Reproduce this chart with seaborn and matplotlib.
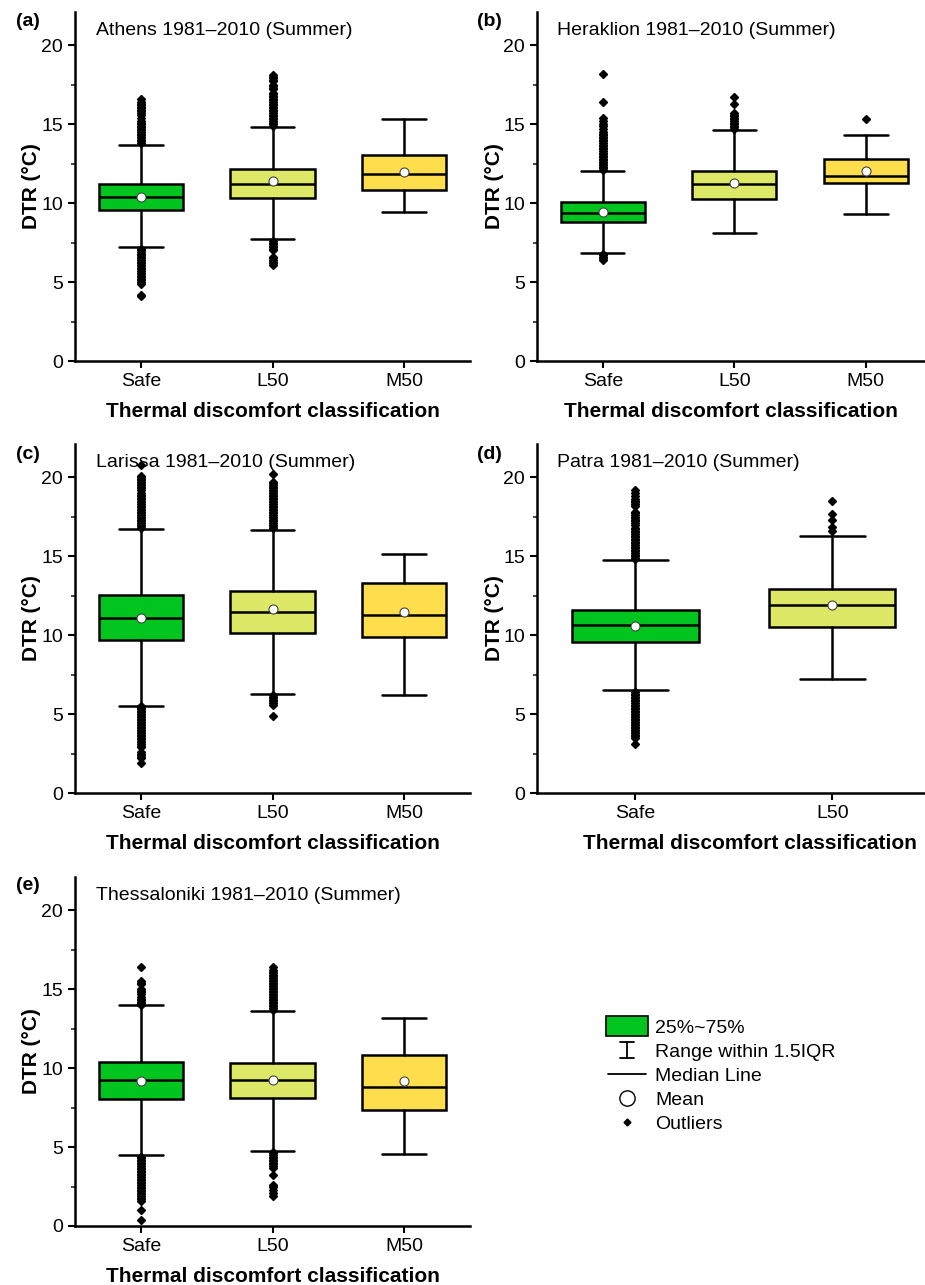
import matplotlib
matplotlib.use("Agg")
import matplotlib.pyplot as plt
import seaborn as sns
from matplotlib.patches import Rectangle
from matplotlib.lines import Line2D
from matplotlib.legend_handler import HandlerBase
from matplotlib.ticker import MultipleLocator

sns.set_theme(style="ticks")
plt.rcParams['font.family'] = ['Liberation Sans', 'DejaVu Sans']
plt.rcParams['text.color'] = 'black'

# ---------------- data ----------------
categories3 = ["Safe", "L50", "M50"]
categories2 = ["Safe", "L50"]
panel_labels = ["(a)", "(b)", "(c)", "(d)", "(e)"]
titles = ["Athens 1981\u20132010 (Summer)", "Heraklion 1981\u20132010 (Summer)",
          "Larissa 1981\u20132010 (Summer)", "Patra 1981\u20132010 (Summer)",
          "Thessaloniki 1981\u20132010 (Summer)"]
box_colors = {"Safe": "#00C51F", "L50": "#DCE866", "M50": "#FFDE4E"}

# Athens
athens_q1 = [9.58, 10.30, 10.80]
athens_med = [10.38, 11.22, 11.84]
athens_q3 = [11.22, 12.13, 13.06]
athens_mean = [10.40, 11.37, 11.96]
athens_whislo = [7.19, 7.70, 9.43]
athens_whishi = [13.69, 14.83, 15.32]
athens_out_safe = [13.8, 13.9, 14.0, 14.1, 14.2, 14.3, 14.4, 14.5, 14.6, 14.7, 14.8, 14.9, 15.0,
                   15.1, 15.2, 15.4, 15.6, 15.7, 15.8, 15.9, 16.0, 16.1, 16.2, 16.3, 16.4, 16.6,
                   7.1, 7.0, 6.9, 6.8, 6.7, 6.6, 6.5, 6.4, 6.3, 6.2, 6.1, 6.0, 5.9, 5.8, 5.7,
                   5.6, 5.5, 5.4, 5.3, 5.2, 5.1, 5.0, 4.9, 4.2, 4.1]
athens_out_l50 = [14.9, 15.0, 15.1, 15.2, 15.3, 15.4, 15.5, 15.6, 15.7, 15.8, 15.9, 16.0, 16.1,
                  16.2, 16.3, 16.4, 16.5, 16.6, 16.7, 16.8, 16.9, 17.0, 17.2, 17.3, 17.4, 17.5,
                  17.7, 17.8, 17.9, 18.0, 18.1,
                  7.6, 7.5, 7.4, 7.3, 7.2, 7.1, 7.0, 6.6, 6.5, 6.4, 6.3, 6.2, 6.1]
athens_out_m50 = []

# Heraklion
heraklion_q1 = [8.80, 10.25, 11.29]
heraklion_med = [9.37, 11.20, 11.71]
heraklion_q3 = [10.06, 12.03, 12.76]
heraklion_mean = [9.43, 11.24, 12.03]
heraklion_whislo = [6.86, 8.12, 9.30]
heraklion_whishi = [12.00, 14.64, 14.30]
heraklion_out_safe = [12.1, 12.2, 12.3, 12.4, 12.5, 12.6, 12.7, 12.8, 12.9, 13.0, 13.1, 13.2,
                      13.3, 13.4, 13.5, 13.6, 13.7, 13.8, 13.9, 14.0, 14.1, 14.2, 14.3, 14.4,
                      14.5, 14.7, 14.9, 15.0, 15.2, 15.4, 16.4, 18.2,
                      6.8, 6.7, 6.6, 6.5, 6.4]
heraklion_out_l50 = [14.7, 14.8, 14.9, 15.0, 15.1, 15.2, 15.3, 15.4, 15.5, 15.6, 15.7, 16.3, 16.7]
heraklion_out_m50 = [15.3]

# Larissa
larissa_q1 = [9.70, 10.15, 9.85]
larissa_med = [11.10, 11.43, 11.29]
larissa_q3 = [12.51, 12.81, 13.27]
larissa_mean = [11.10, 11.62, 11.48]
larissa_whislo = [5.53, 6.29, 6.18]
larissa_whishi = [16.71, 16.67, 15.15]
larissa_out_safe = [16.8, 16.9, 17.0, 17.1, 17.2, 17.3, 17.4, 17.5, 17.6, 17.7, 17.8, 17.9, 18.0,
                    18.1, 18.2, 18.3, 18.4, 18.5, 18.6, 18.7, 18.8, 18.9, 19.0, 19.2, 19.3, 19.4,
                    19.5, 19.6, 19.7, 19.8, 19.9, 20.0, 20.1, 20.8,
                    5.5, 5.4, 5.3, 5.2, 5.1, 5.0, 4.9, 4.8, 4.7, 4.6, 4.5, 4.4, 4.3, 4.2, 4.1,
                    4.0, 3.9, 3.8, 3.7, 3.6, 3.5, 3.4, 3.3, 3.2, 3.1, 3.0, 2.9, 2.6, 2.5, 2.4,
                    2.3, 2.2, 1.9]
larissa_out_l50 = [16.8, 16.9, 17.0, 17.1, 17.2, 17.3, 17.4, 17.5, 17.6, 17.7, 17.8, 17.9, 18.0,
                   18.1, 18.2, 18.3, 18.4, 18.5, 18.6, 18.7, 18.8, 18.9, 19.0, 19.1, 19.2, 19.3,
                   19.4, 19.5, 19.6, 19.7, 20.2,
                   6.2, 6.1, 6.0, 5.9, 5.8, 5.7, 5.6, 4.85]
larissa_out_m50 = []

# Patra
patra_q1 = [9.54, 10.49]
patra_med = [10.61, 11.90]
patra_q3 = [11.58, 12.91]
patra_mean = [10.57, 11.90]
patra_whislo = [6.50, 7.19]
patra_whishi = [14.73, 16.29]
patra_out_safe = [14.8, 14.9, 15.0, 15.1, 15.2, 15.3, 15.4, 15.5, 15.6, 15.7, 15.8, 15.9, 16.0,
                  16.1, 16.2, 16.3, 16.4, 16.5, 16.6, 16.7, 16.8, 17.0, 17.1, 17.2, 17.3, 17.4,
                  17.5, 17.6, 17.7, 17.8, 18.2, 18.3, 18.4, 18.5, 18.6, 18.8, 19.0, 19.2,
                  6.4, 6.3, 6.2, 6.1, 6.0, 5.9, 5.8, 5.7, 5.6, 5.5, 5.4, 5.3, 5.2, 5.1, 5.0,
                  4.9, 4.8, 4.7, 4.6, 4.5, 4.4, 4.3, 4.2, 4.1, 4.0, 3.9, 3.8, 3.7, 3.6, 3.5,
                  3.1]
patra_out_l50 = [16.56, 16.84, 17.30, 17.68, 18.50]

# Thessaloniki
thess_q1 = [8.02, 8.10, 7.34]
thess_med = [9.26, 9.26, 8.82]
thess_q3 = [10.38, 10.30, 10.84]
thess_mean = [9.18, 9.26, 9.18]
thess_whislo = [4.47, 4.77, 4.54]
thess_whishi = [13.97, 13.63, 13.19]
thess_out_safe = [14.0, 14.1, 14.2, 14.3, 14.4, 14.5, 14.7, 14.8, 14.9, 15.0, 15.3, 15.4, 15.5,
                  16.4,
                  4.4, 4.3, 4.2, 4.1, 4.0, 3.9, 3.8, 3.7, 3.6, 3.5, 3.4, 3.3, 3.2, 3.1, 3.0,
                  2.9, 2.8, 2.7, 2.6, 2.5, 2.4, 2.3, 2.2, 2.1, 2.0, 1.9, 1.8, 1.7, 1.6, 1.0, 0.4]
thess_out_l50 = [13.7, 13.8, 13.9, 14.0, 14.1, 14.2, 14.3, 14.4, 14.5, 14.6, 14.7, 14.8, 14.9,
                 15.0, 15.1, 15.2, 15.3, 15.4, 15.5, 15.6, 15.7, 15.8, 15.9, 16.0, 16.1, 16.2,
                 16.4,
                 4.7, 4.6, 4.5, 4.4, 4.3, 4.2, 4.1, 4.0, 3.9, 3.8, 3.7, 3.2, 2.6, 2.5, 2.3,
                 2.1, 1.9]
thess_out_m50 = []

panels = [
    (categories3, athens_q1, athens_med, athens_q3, athens_mean, athens_whislo, athens_whishi,
     [athens_out_safe, athens_out_l50, athens_out_m50]),
    (categories3, heraklion_q1, heraklion_med, heraklion_q3, heraklion_mean, heraklion_whislo,
     heraklion_whishi, [heraklion_out_safe, heraklion_out_l50, heraklion_out_m50]),
    (categories3, larissa_q1, larissa_med, larissa_q3, larissa_mean, larissa_whislo,
     larissa_whishi, [larissa_out_safe, larissa_out_l50, larissa_out_m50]),
    (categories2, patra_q1, patra_med, patra_q3, patra_mean, patra_whislo, patra_whishi,
     [patra_out_safe, patra_out_l50]),
    (categories3, thess_q1, thess_med, thess_q3, thess_mean, thess_whislo, thess_whishi,
     [thess_out_safe, thess_out_l50, thess_out_m50]),
]

# ---------------- layout ----------------
W, H = 925, 1285
fig = plt.figure(figsize=(W / 100, H / 100), dpi=100)

def fx(px):
    return px / W

def fy(px):
    return 1 - px / H

col_left = [75, 537]
col_w = [395, 388]
row_bottom = [361, 793, 1226]
ax_h = 349
grid = [(0, 0), (1, 0), (0, 1), (1, 1), (0, 2)]
xlims = [(-0.5, 2.5), (-0.5, 2.45), (-0.5, 2.5), (-0.5, 1.47), (-0.5, 2.5)]

LW = 1.8
for i, (cats, q1, med, q3, mean, wlo, whi, outs) in enumerate(panels):
    c, r = grid[i]
    ax = fig.add_axes([fx(col_left[c]), 1 - row_bottom[r] / H, col_w[c] / W, ax_h / H])
    stats = []
    for j, cat in enumerate(cats):
        stats.append(dict(label=cat, q1=q1[j], med=med[j], q3=q3[j], mean=mean[j],
                          whislo=wlo[j], whishi=whi[j], fliers=outs[j]))
    bp = ax.bxp(stats, positions=list(range(len(cats))), widths=0.64, capwidths=0.33,
                patch_artist=True, showmeans=True, meanline=False,
                boxprops=dict(edgecolor="black", linewidth=LW),
                whiskerprops=dict(color="black", linewidth=LW),
                capprops=dict(color="black", linewidth=LW),
                medianprops=dict(color="black", linewidth=LW),
                meanprops=dict(marker="o", markerfacecolor="white", markeredgecolor="#444444",
                               markersize=6.5, markeredgewidth=0.8),
                flierprops=dict(marker="D", markerfacecolor="black", markeredgecolor="black",
                                markersize=4.0, linestyle="none"))
    for patch, cat in zip(bp["boxes"], cats):
        patch.set_facecolor(box_colors[cat])
        patch.set_zorder(2)
    ax.set_xlim(*xlims[i])
    ax.set_ylim(0, 22.1)
    ax.set_xticks(range(len(cats)))
    ax.set_xticklabels(cats)
    ax.yaxis.set_major_locator(MultipleLocator(5))
    ax.yaxis.set_minor_locator(MultipleLocator(2.5))
    ax.tick_params(axis="both", which="major", labelsize=14, length=5, width=1.5,
                   direction="out", colors="black", pad=3.5)
    ax.tick_params(axis="y", which="minor", length=3, width=1.2, direction="out")
    for s in ["top", "right"]:
        ax.spines[s].set_visible(False)
    for s in ["left", "bottom"]:
        ax.spines[s].set_linewidth(1.8)
        ax.spines[s].set_color("black")
    ax.set_facecolor("white")
    ax.set_ylabel("DTR (\u00b0C)", fontsize=15, fontweight="bold", color="black")
    ax.yaxis.set_label_coords(-0.085, 0.5)
    ax.set_xlabel("Thermal discomfort classification", fontsize=15, fontweight="bold",
                  color="black")
    ax.xaxis.set_label_coords(0.549 if i == 3 else 0.5, -0.118)
    ax.text(0.052, 0.948, titles[i], transform=ax.transAxes, fontsize=14, va="center",
            ha="left", color="black")
    lab_x = 16 if c == 0 else 477
    lab_y = [21, 454, 886][r]
    fig.text(fx(lab_x), fy(lab_y), panel_labels[i], fontsize=14, fontweight="bold",
             va="center", ha="left", color="black")

# ---------------- legend ----------------
class FuncHandler(HandlerBase):
    def __init__(self, kind):
        super().__init__()
        self.kind = kind

    def create_artists(self, legend, orig_handle, xdescent, ydescent, width, height,
                       fontsize, trans):
        cx = width / 2 - xdescent
        cy = height / 2 - ydescent
        arts = []
        if self.kind == "box":
            arts.append(Rectangle((-xdescent, -ydescent - 2), width, height + 4,
                                  facecolor=box_colors["Safe"], edgecolor="black", lw=1.2,
                                  transform=trans))
        elif self.kind == "whisker":
            h = 12
            arts.append(Line2D([cx, cx], [cy - h / 2, cy + h / 2], color="black", lw=1.3,
                               transform=trans))
            for yy in (cy - h / 2, cy + h / 2):
                arts.append(Line2D([cx - 5, cx + 5], [yy, yy], color="black", lw=1.3,
                                   transform=trans))
        elif self.kind == "median":
            arts.append(Line2D([cx - 14, cx + 14], [cy, cy], color="black", lw=1.3,
                               transform=trans))
        elif self.kind == "mean":
            arts.append(Line2D([cx], [cy], marker="o", markersize=11,
                               markerfacecolor="white", markeredgecolor="black",
                               markeredgewidth=1.0, linestyle="none", transform=trans))
        elif self.kind == "outlier":
            arts.append(Line2D([cx], [cy], marker="D", markersize=3.5,
                               markerfacecolor="black", markeredgecolor="black",
                               linestyle="none", transform=trans))
        return arts

legend_labels = ["25%~75%", "Range within 1.5IQR", "Median Line", "Mean", "Outliers"]
legend_kinds = ["box", "whisker", "median", "mean", "outlier"]
handles = [Line2D([], []) for _ in legend_kinds]
hmap = {h: FuncHandler(k) for h, k in zip(handles, legend_kinds)}
fig.legend(handles, legend_labels, handler_map=hmap, loc="upper left",
           bbox_to_anchor=(fx(592), fy(1005)), frameon=False, fontsize=14,
           handlelength=2.2, handleheight=0.8, handletextpad=0.35, labelspacing=0.3,
           borderpad=0.2, labelcolor="black")

fig.savefig("out.png", dpi=100, facecolor="white")
